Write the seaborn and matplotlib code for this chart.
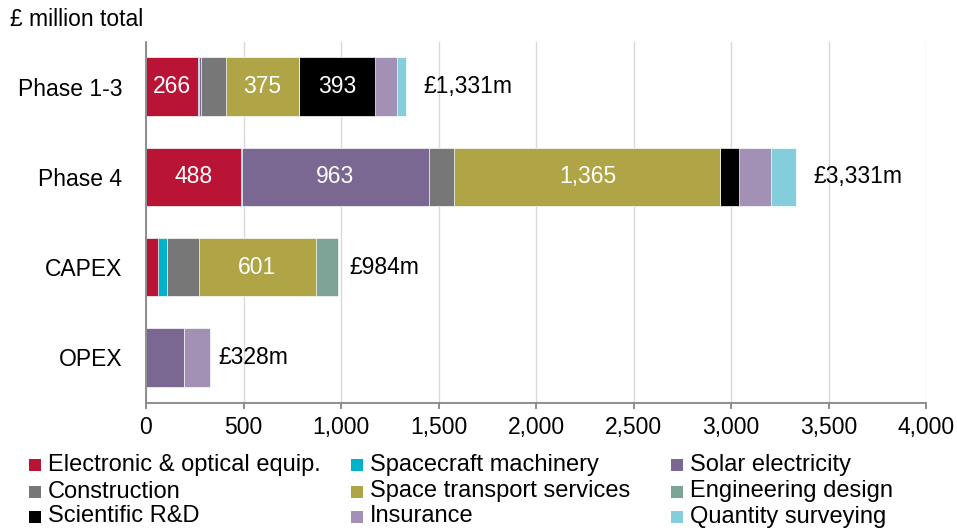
import numpy as np
import pandas as pd
import matplotlib
matplotlib.use("Agg")
import matplotlib.pyplot as plt
from matplotlib.patches import Rectangle
from matplotlib.ticker import FuncFormatter, MultipleLocator
import seaborn as sns

# Cost breakdown (£ million) by programme stage
categories = ["Phase 1-3", "Phase 4", "CAPEX", "OPEX"]
segments = [
    "Electronic & optical equip.",
    "Spacecraft machinery",
    "Solar electricity",
    "Construction",
    "Space transport services",
    "Engineering design",
    "Scientific R&D",
    "Insurance",
    "Quantity surveying",
]
electronic = [266, 488, 60, 0]
spacecraft = [8, 2, 48, 0]
solar = [6, 963, 0, 194]
construction = [128, 128, 162, 0]
transport = [375, 1365, 601, 0]
engineering = [0, 0, 113, 0]
scientific = [393, 96, 0, 0]
insurance = [109, 162, 0, 134]
surveying = [46, 127, 0, 0]

colors = [
    "#B91436",  # electronic & optical
    "#00B2CA",  # spacecraft machinery
    "#7A6893",  # solar electricity
    "#777777",  # construction
    "#AFA446",  # space transport
    "#7CA395",  # engineering design
    "#000000",  # scientific R&D
    "#A291B5",  # insurance
    "#84CDDB",  # quantity surveying
]

sns.set_theme(style="white")
plt.rcParams["font.family"] = ["Liberation Sans", "DejaVu Sans"]
plt.rcParams.update({
    "text.color": "black",
    "xtick.labelcolor": "black",
    "ytick.labelcolor": "black",
})

FS = 16.5
W, H = 957, 531
fig = plt.figure(figsize=(W / 100, H / 100), dpi=100)
ax = fig.add_axes([146 / W, 1 - 402.5 / H, 780 / W, 361 / H])

values = np.array([electronic, spacecraft, solar, construction, transport,
                   engineering, scientific, insurance, surveying])
cum = values.cumsum(axis=0)

# Stacked bars: draw running totals from the outermost layer inwards
for i in range(len(segments) - 1, -1, -1):
    df = pd.DataFrame({"category": categories, "value": cum[i]})
    sns.barplot(data=df, x="value", y="category", orient="h",
                color=colors[i], saturation=1, width=0.65,
                edgecolor="white", linewidth=0.5, errorbar=None, ax=ax)

# Value labels inside the larger segments, totals at the bar ends
total_offsets = [13, 13, 8, 6]
for j, cat in enumerate(categories):
    for i in range(len(segments)):
        v = values[i, j]
        if v >= 250:
            ax.text(cum[i, j] - v / 2, j, f"{v:,}", color="white",
                    ha="center", va="center", fontsize=FS)
    total = cum[-1, j]
    ax.annotate(f"£{total:,}m", xy=(total, j), xytext=(total_offsets[j], 0),
                textcoords="offset points", ha="left", va="center",
                fontsize=FS)

ax.set_xlim(0, 4000)
ax.xaxis.set_major_locator(MultipleLocator(500))
ax.xaxis.set_major_formatter(FuncFormatter(lambda x, p: f"{x:,.0f}"))
ax.set_xlabel("")
ax.set_ylabel("")
ax.grid(axis="x", color="#D9D9D9", linewidth=1)
ax.grid(axis="y", visible=False)
ax.set_axisbelow(True)

for side in ("top", "right"):
    ax.spines[side].set_visible(False)
for side in ("left", "bottom"):
    ax.spines[side].set_color("#868686")
    ax.spines[side].set_linewidth(1.3)

ax.tick_params(axis="x", bottom=True, length=4, width=1.3, color="#868686",
               pad=6, labelsize=FS)
ax.tick_params(axis="y", left=False, length=0, pad=17, labelsize=FS)

fig.text(10 / W, 1 - 19 / H, "£ million total", ha="left", va="center",
         fontsize=FS)

# Legend laid out in three columns, row by row
col_x = [29, 351, 671]
row_y = [465, 491.5, 516.5]
for k, (name, c) in enumerate(zip(segments, colors)):
    r, col = divmod(k, 3)
    x, y = col_x[col], row_y[r]
    fig.add_artist(Rectangle((x / W, 1 - (y + 6) / H), 12 / W, 12 / H,
                             transform=fig.transFigure, facecolor=c,
                             edgecolor="none"))
    fig.text((x + 18.5) / W, 1 - y / H, name, ha="left", va="center",
             fontsize=17)

fig.savefig("out.png", dpi=100)
